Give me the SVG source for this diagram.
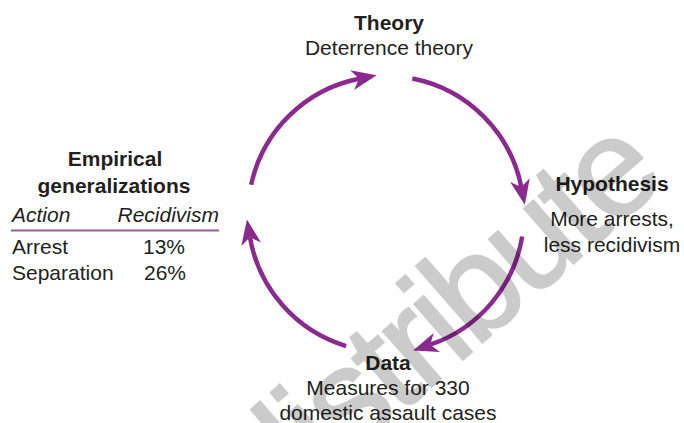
<svg xmlns="http://www.w3.org/2000/svg" width="684" height="423" viewBox="0 0 684 423">
<style>
  text { font-family: "Liberation Sans", Arial, sans-serif; font-size: 21px; fill: #231f20; }
  .b { font-weight: bold; }
  .i { font-style: italic; }
  .c { text-anchor: middle; }
  .arc { fill: none; stroke: #8b2a8e; stroke-width: 4.5; marker-end: url(#ah); }
  .wm { font-size: 140px; letter-spacing: -5px; fill: #000; stroke: #000; stroke-width: 2; }
</style>
<defs>
  <marker id="ah" markerUnits="userSpaceOnUse" orient="auto" refX="0" refY="0" markerWidth="40" markerHeight="40" viewBox="-20 -20 40 40" overflow="visible">
    <path d="M18,0 L-7,-10 L0,0 L-7,10 Z" fill="#8b2a8e"/>
  </marker>
</defs>
<rect width="684" height="423" fill="#fff"/>

<g id="connectors">
  <path class="arc" d="M251.1,184.8 A138,138 0 0 1 359.0,78.7"/>
  <path class="arc" d="M412.3,78.5 A138,138 0 0 1 521.3,187.0"/>
  <path class="arc" d="M522.2,236.5 A138,138 0 0 1 430.2,344.7"/>
  <path class="arc" d="M346.1,346.1 A138,138 0 0 1 250.0,237.3"/>
</g>

<g id="theory">
  <text class="b c" x="389" y="30">Theory</text>
  <text class="c" x="389" y="55">Deterrence theory</text>
</g>

<g id="hypothesis">
  <text class="b c" x="612" y="191">Hypothesis</text>
  <text class="c" x="612" y="226">More arrests,</text>
  <text class="c" x="612" y="252">less recidivism</text>
</g>

<g id="data">
  <text class="b c" x="388" y="370">Data</text>
  <text class="c" x="388" y="395">Measures for 330</text>
  <text class="c" x="388" y="420">domestic assault cases</text>
</g>

<g id="empirical">
  <text class="b c" x="115" y="166">Empirical</text>
  <text class="b c" x="114" y="193">generalizations</text>
  <text class="i" x="12" y="222">Action</text>
  <text class="i" x="219" y="222" text-anchor="end">Recidivism</text>
  <line x1="11" y1="230.5" x2="219" y2="230.5" stroke="#9d5aa0" stroke-width="2"/>
  <text x="12" y="253.5">Arrest</text>
  <text class="c" x="164" y="253.5">13%</text>
  <text x="12" y="280">Separation</text>
  <text class="c" x="165" y="280">26%</text>
</g>

<g opacity="0.2">
  <text class="wm" transform="translate(275,523) rotate(-41)">distribute</text>
</g>
</svg>
